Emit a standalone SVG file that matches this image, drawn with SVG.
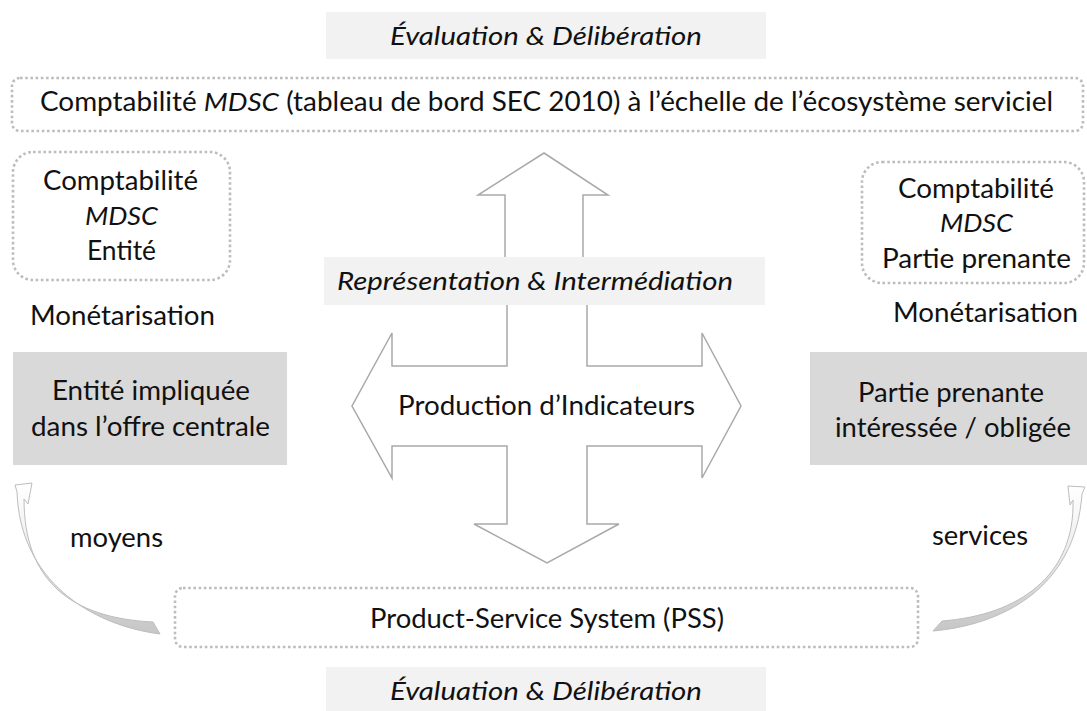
<svg xmlns="http://www.w3.org/2000/svg" width="1087" height="711" viewBox="0 0 1087 711">
<defs>
<style>
.t{font-family:Lato,"Open Sans","Liberation Sans",sans-serif;font-size:26px;fill:#111111;text-anchor:start}
.i{font-style:italic}
.band{fill:#f2f2f2}
.gray{fill:#d9d9d9}
.dot{fill:#ffffff;stroke:#bdbdbd;stroke-width:2.6;stroke-dasharray:2.6 2.6}
.cross{fill:#ffffff;stroke:#a9a9a9;stroke-width:1.5;stroke-linejoin:miter}
.curve{fill:url(#cg);stroke:#bdbdbd;stroke-width:1}
</style>
<linearGradient id="cg" x1="0" y1="0" x2="0" y2="1">
<stop offset="0" stop-color="#ffffff"/>
<stop offset="0.45" stop-color="#eeeeee"/>
<stop offset="0.8" stop-color="#d2d2d2"/>
<stop offset="1" stop-color="#c6c6c6"/>
</linearGradient>
</defs>
<rect width="1087" height="711" fill="#ffffff"/>

<g id="connectors">
<polygon class="cross" points="544,153 608,195 583,195 583,270 505,270 505,195 478,195"/>
<polygon class="cross" points="507,290 507,366 392,366 392,333 352,406 392,478 392,446 507,446 507,524 474,524 547,563 619,524 587,524 587,446 702,446 702,478 741,406 702,333 702,366 587,366 587,290"/>
<path class="curve" d="M160,634 C90,625 20,580 17,492 L15,485 L32,483 L28,504 L24,499 C24,580 70,618 153,622 Z"/>
<path class="curve" d="M933,631 C1000,625 1075,590 1082,494 L1085,487 L1068,486 L1070,505 L1073,500 C1075,575 1020,615 942,621 Z"/>
</g>

<g id="eval-top">
<rect class="band" x="326" y="12" width="440" height="47"/>
<text class="t i" x="390" y="45" textLength="312" lengthAdjust="spacingAndGlyphs">Évaluation &amp; Délibération</text>
</g>

<g id="compta-ecosysteme">
<rect class="dot" x="12" y="78" width="1071" height="53" rx="8"/>
<text class="t" x="40" y="111" textLength="1013" lengthAdjust="spacingAndGlyphs">Comptabilité <tspan class="i">MDSC</tspan> (tableau de bord SEC 2010) à l’échelle de l’écosystème serviciel</text>
</g>

<g id="compta-entite">
<rect class="dot" x="13" y="152" width="217" height="128" rx="20"/>
<text class="t" x="43" y="190" textLength="155" lengthAdjust="spacingAndGlyphs">Comptabilité</text>
<text class="t i" x="85" y="225" textLength="73" lengthAdjust="spacingAndGlyphs">MDSC</text>
<text class="t" x="87" y="260" textLength="69" lengthAdjust="spacingAndGlyphs">Entité</text>
</g>

<g id="compta-partie">
<rect class="dot" x="862" y="162" width="222" height="121" rx="20"/>
<text class="t" x="898" y="198" textLength="156" lengthAdjust="spacingAndGlyphs">Comptabilité</text>
<text class="t i" x="940" y="232" textLength="73" lengthAdjust="spacingAndGlyphs">MDSC</text>
<text class="t" x="882" y="268" textLength="189" lengthAdjust="spacingAndGlyphs">Partie prenante</text>
</g>

<g id="monet-left">
<text class="t" x="30" y="325" textLength="185" lengthAdjust="spacingAndGlyphs">Monétarisation</text>
</g>
<g id="monet-right">
<text class="t" x="893" y="322" textLength="185" lengthAdjust="spacingAndGlyphs">Monétarisation</text>
</g>

<g id="entite">
<rect class="gray" x="13" y="352" width="274" height="113"/>
<text class="t" x="52" y="400" textLength="198" lengthAdjust="spacingAndGlyphs">Entité impliquée</text>
<text class="t" x="31" y="436" textLength="239" lengthAdjust="spacingAndGlyphs">dans l’offre centrale</text>
</g>

<g id="partie">
<rect class="gray" x="810" y="352" width="277" height="113"/>
<text class="t" x="858" y="402" textLength="186" lengthAdjust="spacingAndGlyphs">Partie prenante</text>
<text class="t" x="835" y="437" textLength="236" lengthAdjust="spacingAndGlyphs">intéressée / obligée</text>
</g>

<g id="representation">
<rect class="band" x="324" y="257" width="441" height="48"/>
<text class="t i" x="337" y="290" textLength="396" lengthAdjust="spacingAndGlyphs">Représentation &amp; Intermédiation</text>
</g>

<g id="production">
<text class="t" x="398" y="415" textLength="297" lengthAdjust="spacingAndGlyphs">Production d’Indicateurs</text>
</g>

<g id="moyens">
<text class="t" x="70" y="547" textLength="93" lengthAdjust="spacingAndGlyphs">moyens</text>
</g>
<g id="services">
<text class="t" x="932" y="545" textLength="96" lengthAdjust="spacingAndGlyphs">services</text>
</g>

<g id="pss">
<rect class="dot" x="175" y="588" width="743" height="59" rx="8"/>
<text class="t" x="370" y="628" textLength="354" lengthAdjust="spacingAndGlyphs">Product-Service System (PSS)</text>
</g>

<g id="eval-bottom">
<rect class="band" x="326" y="667" width="440" height="44"/>
<text class="t i" x="390" y="700" textLength="312" lengthAdjust="spacingAndGlyphs">Évaluation &amp; Délibération</text>
</g>
</svg>
